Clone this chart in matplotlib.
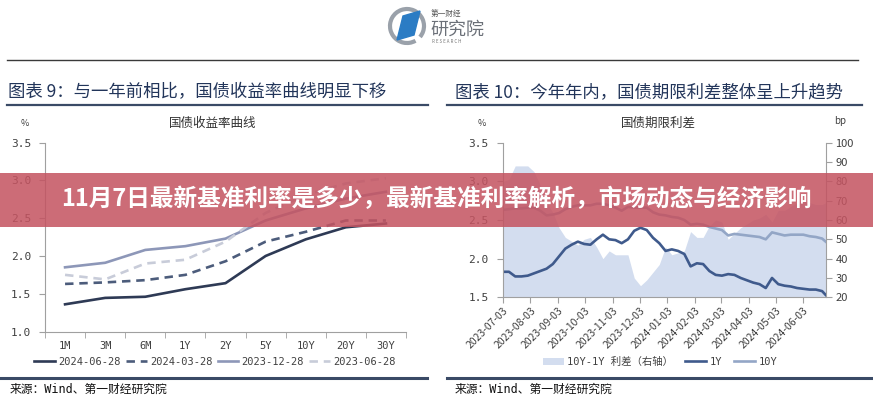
import matplotlib
matplotlib.use('Agg')
import matplotlib.pyplot as plt
import numpy as np
import pandas as pd
from matplotlib.patches import Rectangle, Polygon, Arc, Patch
from matplotlib.lines import Line2D

plt.rcParams['font.family'] = ['Noto Sans CJK SC', 'DejaVu Sans']

# ---------------- data: left chart (yield curves) ----------------
tenors = ['1M', '3M', '6M', '1Y', '2Y', '5Y', '10Y', '20Y', '30Y']
curve_labels = ['2024-06-28', '2024-03-28', '2023-12-28', '2023-06-28']
curve_20240628 = [1.36, 1.445, 1.46, 1.56, 1.64, 2.00, 2.22, 2.38, 2.43]
curve_20240328 = [1.63, 1.65, 1.68, 1.75, 1.93, 2.19, 2.32, 2.47, 2.47]
curve_20231228 = [1.85, 1.91, 2.08, 2.13, 2.23, 2.47, 2.63, 2.76, 2.85]
curve_20230628 = [1.75, 1.69, 1.90, 1.95, 2.19, 2.57, 2.81, 2.96, 3.03]
left_yticks = [1.0, 1.5, 2.0, 2.5, 3.0, 3.5]

# ---------------- data: right chart (term spread) ----------------
obs_dates = ['2023-07-03', '2023-07-10', '2023-07-17', '2023-07-24', '2023-07-31',
             '2023-08-07', '2023-08-14', '2023-08-21', '2023-08-28', '2023-09-04',
             '2023-09-11', '2023-09-18', '2023-09-25', '2023-10-02', '2023-10-09',
             '2023-10-16', '2023-10-23', '2023-10-30', '2023-11-06', '2023-11-13',
             '2023-11-20', '2023-11-27', '2023-12-04', '2023-12-11', '2023-12-18',
             '2023-12-25', '2024-01-01', '2024-01-08', '2024-01-15', '2024-01-22',
             '2024-01-29', '2024-02-05', '2024-02-12', '2024-02-19', '2024-02-26',
             '2024-03-04', '2024-03-11', '2024-03-18', '2024-03-25', '2024-04-01',
             '2024-04-08', '2024-04-15', '2024-04-22', '2024-04-29', '2024-05-06',
             '2024-05-13', '2024-05-20', '2024-05-27', '2024-06-03', '2024-06-10',
             '2024-06-17', '2024-06-24', '2024-06-28']
yield_1y = [1.83, 1.83, 1.77, 1.77, 1.78, 1.81, 1.84, 1.87, 1.93, 2.03,
            2.13, 2.18, 2.22, 2.19, 2.18, 2.25, 2.31, 2.25, 2.24, 2.20,
            2.25, 2.36, 2.40, 2.37, 2.27, 2.20, 2.10, 2.12, 2.10, 2.06,
            1.90, 1.94, 1.93, 1.84, 1.79, 1.78, 1.80, 1.79, 1.75, 1.72,
            1.69, 1.67, 1.62, 1.75, 1.67, 1.65, 1.64, 1.62, 1.61, 1.60,
            1.60, 1.58, 1.53]
yield_10y = [2.63, 2.64, 2.65, 2.65, 2.66, 2.66, 2.62, 2.56, 2.57, 2.59,
             2.64, 2.67, 2.69, 2.69, 2.69, 2.71, 2.71, 2.69, 2.66, 2.62,
             2.67, 2.66, 2.66, 2.66, 2.60, 2.57, 2.56, 2.54, 2.53, 2.50,
             2.44, 2.45, 2.44, 2.41, 2.39, 2.37, 2.30, 2.32, 2.31, 2.30,
             2.29, 2.28, 2.25, 2.34, 2.32, 2.30, 2.31, 2.31, 2.31, 2.29,
             2.28, 2.26, 2.22]
spread_bp = [80, 81, 88, 88, 88, 85, 78, 69, 64, 56,
             51, 49, 47, 50, 51, 46, 40, 44, 42, 42,
             42, 30, 26, 29, 33, 37, 46, 42, 43, 44,
             54, 51, 51, 57, 60, 59, 50, 53, 56, 58,
             60, 61, 63, 59, 65, 65, 67, 69, 70, 69,
             68, 68, 69]
month_ticks = ['2023-07-03', '2023-08-03', '2023-09-03', '2023-10-03', '2023-11-03',
               '2023-12-03', '2024-01-03', '2024-02-03', '2024-03-03', '2024-04-03',
               '2024-05-03', '2024-06-03']
right_pct_ticks = [1.5, 2.0, 2.5, 3.0, 3.5]
right_bp_ticks = [20, 30, 40, 50, 60, 70, 80, 90, 100]

# ---------------- figure ----------------
W, H = 873, 400
fig = plt.figure(figsize=(W / 100, H / 100), dpi=100)
fig.patch.set_facecolor('white')

def fx(px):
    return px / W

def fy(py):
    return 1 - py / H

MONO = ['DejaVu Sans Mono', 'Noto Sans CJK SC']
AXC = '#a0a0a0'
TXC = '#404040'

# ---------------- header / logo ----------------
fig.add_artist(Line2D([fx(7), fx(858)], [fy(60), fy(60)], color='#3a3a3a', lw=1.0))

axlogo = fig.add_axes([fx(380), fy(50), fx(110), 45 / H])
axlogo.set_xlim(380, 490)
axlogo.set_ylim(50, 5)
axlogo.axis('off')
axlogo.add_patch(Arc((407, 26), 34, 34, theta1=60, theta2=400, color='#9aa1aa', lw=3))
axlogo.add_patch(Polygon([(397, 40), (403, 16), (420, 11), (414, 35)], closed=True,
                         color='#2b7cc4'))
axlogo.text(431, 14, '第一财经', fontsize=5.5, color='#555555', va='center', ha='left')
axlogo.text(430, 30, '研究院', fontsize=13, color='#6b7078', va='center', ha='left')
axlogo.text(432, 41.5, 'R E S E A R C H', fontsize=3.2, color='#777777', va='center', ha='left')

# titles
fig.text(fx(8), fy(92), '图表 9：与一年前相比，国债收益率曲线明显下移', fontsize=12.5,
         fontweight='medium', color='#22355a', va='center', ha='left')
fig.text(fx(455), fy(92), '图表 10：今年年内，国债期限利差整体呈上升趋势', fontsize=12.5,
         fontweight='medium', color='#22355a', va='center', ha='left')
fig.add_artist(Line2D([fx(7), fx(428)], [fy(104.5), fy(104.5)], color='#3a4a66', lw=1.6))
fig.add_artist(Line2D([fx(447), fx(862)], [fy(104.5), fy(104.5)], color='#3a4a66', lw=1.6))

# ---------------- left chart ----------------
axL = fig.add_axes([fx(45), fy(331.5), fx(361), (331.5 - 142.7) / H])
xpos = np.arange(len(tenors))
dash = (0, (3.2, 2.2))
axL.plot(xpos, curve_20240628, color='#2e3a55', lw=1.9, label=curve_labels[0])
axL.plot(xpos, curve_20240328, color='#4c5c7b', lw=1.9, ls=dash, label=curve_labels[1])
axL.plot(xpos, curve_20231228, color='#8d97b8', lw=1.9, label=curve_labels[2])
axL.plot(xpos, curve_20230628, color='#c8ccd9', lw=1.9, ls=dash, label=curve_labels[3])
axL.set_xlim(-0.5, len(tenors) - 0.5)
axL.set_ylim(1.0, 3.5)
axL.set_yticks(left_yticks)
axL.set_yticklabels([f'{v:.1f}' for v in left_yticks], fontsize=8, color=TXC, family=MONO)
axL.set_xticks(xpos)
axL.set_xticklabels(tenors, fontsize=7.5, color=TXC, family=MONO)
axL.set_xticks(np.arange(-0.5, len(tenors), 1), minor=True)
axL.tick_params(axis='x', which='major', length=0, pad=7)
axL.tick_params(axis='x', which='minor', length=4, color=AXC)
axL.tick_params(axis='y', length=4, color=AXC, pad=6)
for s in ['top', 'right']:
    axL.spines[s].set_visible(False)
for s in ['left', 'bottom']:
    axL.spines[s].set_color(AXC)
fig.text(fx(213), fy(123), '国债收益率曲线', fontsize=9, color='#333333', ha='center', va='center')
fig.text(fx(25), fy(124), '%', fontsize=6.5, color=TXC, ha='center', va='center')

hL, lL = axL.get_legend_handles_labels()
legL = fig.legend(hL, lL, loc='center', bbox_to_anchor=(fx(215), fy(362)), ncol=4,
                  frameon=False, handlelength=2.0, handletextpad=0.3, columnspacing=0.5,
                  prop={'family': MONO, 'size': 7.5})
for t in legL.get_texts():
    t.set_color(TXC)

# ---------------- right chart ----------------
axB = fig.add_axes([fx(502.7), fy(297.3), fx(323), 154.6 / H])
dts = pd.to_datetime(obs_dates)
axB.fill_between(dts, 20, spread_bp, color='#d3ddef', lw=0, label='10Y-1Y 利差（右轴）')
axB.set_ylim(20, 100)
axB.set_xlim(pd.Timestamp('2023-07-03'), pd.Timestamp('2024-06-28'))
mt = pd.to_datetime(month_ticks)
axB.set_xticks(mt)
axB.set_xticklabels(month_ticks, rotation=45, ha='right', rotation_mode='anchor',
                    fontsize=7.5, color=TXC)
axB.tick_params(axis='x', length=4, color=AXC, pad=2)

axP = axB.twinx()
# bp axis on the right, % axis on the left
axB.yaxis.tick_right()
axB.set_yticks(right_bp_ticks)
axB.set_yticklabels([str(v) for v in right_bp_ticks], fontsize=8, color=TXC)
axB.tick_params(axis='y', length=4, color=AXC, pad=3)
for s in ['top', 'left']:
    axB.spines[s].set_visible(False)
for s in ['right', 'bottom']:
    axB.spines[s].set_color(AXC)

axP.yaxis.tick_left()
axP.plot(dts, yield_1y, color='#3f5a8c', lw=1.9, label='1Y')
axP.plot(dts, yield_10y, color='#93a6c6', lw=1.9, label='10Y')
axP.set_ylim(1.5, 3.5)
axP.set_yticks(right_pct_ticks)
axP.set_yticklabels([f'{v:.1f}' for v in right_pct_ticks], fontsize=8, color=TXC, family=MONO)
axP.tick_params(axis='y', length=4, color=AXC, pad=6)
for s in ['top', 'right', 'bottom']:
    axP.spines[s].set_visible(False)
axP.spines['left'].set_color(AXC)
axP.set_xlim(pd.Timestamp('2023-07-03'), pd.Timestamp('2024-06-28'))

fig.text(fx(658), fy(123), '国债期限利差', fontsize=9, color='#333333', ha='center', va='center')
fig.text(fx(482), fy(123), '%', fontsize=6.5, color=TXC, ha='center', va='center')
fig.text(fx(840), fy(121), 'bp', fontsize=7, color=TXC, ha='center', va='center')

hB, lB = axB.get_legend_handles_labels()
hP, lP = axP.get_legend_handles_labels()
legR = fig.legend(hB + hP, lB + lP, loc='center', bbox_to_anchor=(fx(660), fy(362)), ncol=3,
                  frameon=False, handlelength=2.0, handletextpad=0.3, columnspacing=1.2,
                  prop={'family': MONO, 'size': 7.5})
for t in legR.get_texts():
    t.set_color(TXC)

# ---------------- footer ----------------
fig.add_artist(Line2D([0, fx(427)], [fy(378), fy(378)], color='#3a4a66', lw=2.2))
fig.add_artist(Line2D([fx(447), 1], [fy(378), fy(378)], color='#3a4a66', lw=2.2))
fig.text(fx(10), fy(389), '来源：Wind、第一财经研究院', fontsize=8.5, color='#111111',
         ha='left', va='center', family=MONO)
fig.text(fx(455), fy(389), '来源：Wind、第一财经研究院', fontsize=8.5, color='#111111',
         ha='left', va='center', family=MONO)

# ---------------- overlay banner ----------------
fig.add_artist(Rectangle((0, fy(227)), 1, (227 - 173) / H, transform=fig.transFigure,
                         facecolor=(0.77, 0.33, 0.38), alpha=0.86, lw=0, zorder=20))
fig.text(0.5, fy(199), '11月7日最新基准利率是多少，最新基准利率解析，市场动态与经济影响',
         fontsize=17, fontweight='bold', color='white', ha='center', va='center', zorder=21)

fig.savefig('out.png', dpi=100, facecolor='white')
